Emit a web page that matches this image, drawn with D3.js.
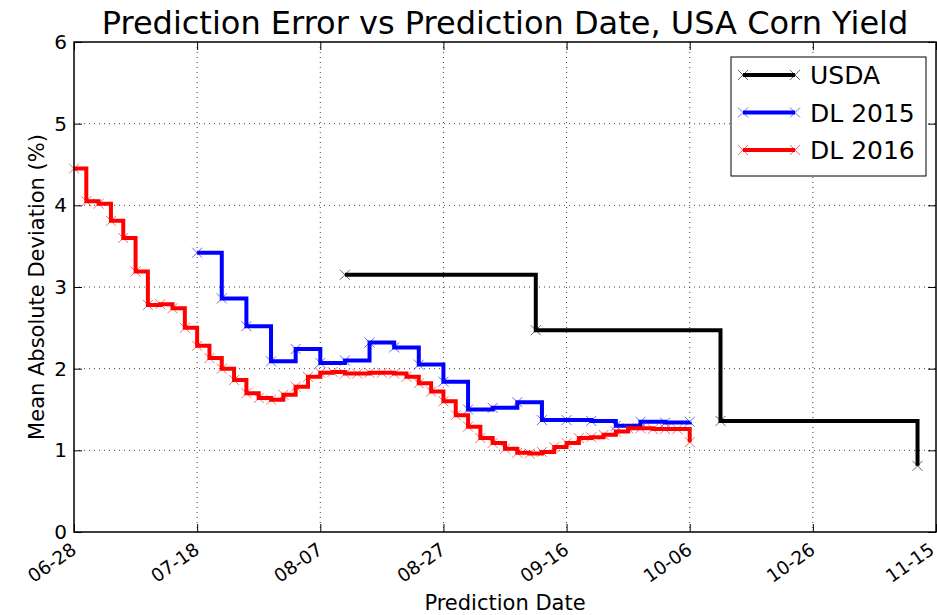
<!DOCTYPE html>
<html>
<head>
<meta charset="utf-8">
<script src="https://cdn.jsdelivr.net/npm/d3@7"></script>
<style>
  body { margin: 0; background: #fff; }
  svg { font-family: "DejaVu Sans", sans-serif; }
</style>
</head>
<body>
<div id="chart"></div>
<script>
// Dimensions
const width = 937;
const height = 615;
const margin = { top: 42, right: 1, bottom: 83, left: 74 };

// Data (month-day strings, values in %)
const xTickLabels = ["06-28", "07-18", "08-07", "08-27", "09-16", "10-06", "10-26", "11-15"];
const yTickValues = [0, 1, 2, 3, 4, 5, 6];

const usdaDates = ["08-11", "09-11", "10-11", "11-12"];
const usdaValues = [3.15, 2.47, 1.36, 0.81];

const dl2015Dates = ["07-18", "07-22", "07-26", "07-30", "08-03", "08-07", "08-11", "08-15",
  "08-19", "08-23", "08-27", "08-31", "09-04", "09-08", "09-12", "09-16", "09-20", "09-24",
  "09-28", "10-02", "10-06"];
const dl2015Values = [3.42, 2.86, 2.52, 2.09, 2.24, 2.07, 2.10, 2.32, 2.26, 2.05, 1.84,
  1.50, 1.52, 1.59, 1.37, 1.37, 1.36, 1.30, 1.35, 1.34, 1.35];

const dl2016Dates = ["06-28", "06-30", "07-02", "07-04", "07-06", "07-08", "07-10", "07-12",
  "07-14", "07-16", "07-18", "07-20", "07-22", "07-24", "07-26", "07-28", "07-30", "08-01",
  "08-03", "08-05", "08-07", "08-09", "08-11", "08-13", "08-15", "08-17", "08-19", "08-21",
  "08-23", "08-25", "08-27", "08-29", "08-31", "09-02", "09-04", "09-06", "09-08", "09-10",
  "09-12", "09-14", "09-16", "09-18", "09-20", "09-22", "09-24", "09-26", "09-28", "09-30",
  "10-02", "10-04", "10-06"];
const dl2016Values = [4.45, 4.05, 4.02, 3.81, 3.60, 3.19, 2.78, 2.79, 2.74, 2.50, 2.28,
  2.13, 2.00, 1.86, 1.70, 1.64, 1.62, 1.68, 1.78, 1.90, 1.95, 1.96, 1.94, 1.94, 1.95,
  1.95, 1.94, 1.90, 1.82, 1.72, 1.60, 1.43, 1.29, 1.15, 1.09, 1.02, 0.97, 0.96, 0.98,
  1.04, 1.09, 1.15, 1.16, 1.19, 1.23, 1.27, 1.27, 1.26, 1.26, 1.26, 1.10];

const seriesNames = ["USDA", "DL 2015", "DL 2016"];
const seriesColors = ["#000000", "#0000ff", "#ff0000"];

const parseDay = d3.timeParse("%m-%d");

const series = [
  { dates: usdaDates, values: usdaValues },
  { dates: dl2015Dates, values: dl2015Values },
  { dates: dl2016Dates, values: dl2016Values }
].map((s, i) => ({
  name: seriesNames[i],
  color: seriesColors[i],
  points: s.dates.map((d, j) => ({ date: parseDay(d), value: s.values[j] }))
}));

const svg = d3
  .select("#chart")
  .append("svg")
  .attr("width", width)
  .attr("height", height);

// Scales
const x = d3
  .scaleTime()
  .domain([parseDay(xTickLabels[0]), parseDay(xTickLabels[xTickLabels.length - 1])])
  .range([margin.left, width - margin.right]);

const y = d3
  .scaleLinear()
  .domain([0, 6])
  .range([height - margin.bottom, margin.top]);

const xTicks = xTickLabels.map(parseDay);
const plotBottom = height - margin.bottom;
const plotRight = width - margin.right;

// Grid (dotted)
const grid = svg.append("g").attr("stroke", "#000").attr("stroke-width", 1)
  .attr("stroke-dasharray", "1,4").attr("opacity", 0.75);
grid.selectAll("line.v")
  .data(xTicks.slice(1, -1))
  .join("line")
  .attr("class", "v")
  .attr("x1", d => x(d)).attr("x2", d => x(d))
  .attr("y1", margin.top).attr("y2", plotBottom);
grid.selectAll("line.h")
  .data(yTickValues.slice(1, -1))
  .join("line")
  .attr("class", "h")
  .attr("x1", margin.left).attr("x2", plotRight)
  .attr("y1", d => y(d)).attr("y2", d => y(d));

// Axes with inward ticks
const xAxis = d3.axisBottom(x).tickValues(xTicks).tickSizeInner(-8).tickSizeOuter(0).tickFormat("");
const xAxisTop = d3.axisTop(x).tickValues(xTicks).tickSizeInner(-8).tickSizeOuter(0).tickFormat("");
const yAxis = d3.axisLeft(y).tickValues(yTickValues).tickSizeInner(-8).tickSizeOuter(0)
  .tickPadding(7).tickFormat(d3.format("d"));
const yAxisRight = d3.axisRight(y).tickValues(yTickValues).tickSizeInner(-8).tickSizeOuter(0).tickFormat("");

const gx = svg.append("g").attr("transform", `translate(0,${plotBottom})`).call(xAxis);
const gxt = svg.append("g").attr("transform", `translate(0,${margin.top})`).call(xAxisTop);
const gy = svg.append("g").attr("transform", `translate(${margin.left},0)`).call(yAxis);
const gyr = svg.append("g").attr("transform", `translate(${plotRight},0)`).call(yAxisRight);

[gx, gxt, gy, gyr].forEach(g => g.attr("font-family", "DejaVu Sans").attr("font-size", 20));
svg.selectAll(".domain").remove();
svg.selectAll(".tick line").attr("stroke", "#000").attr("stroke-width", 1);

gy.selectAll("text")
  .attr("font-size", "20px")
  .attr("fill", "#000");

// Rotated x tick labels (last one nudged so it stays inside the page)
gx.selectAll(".tick")
  .append("text")
  .attr("fill", "#000")
  .attr("font-size", "18.5px")
  .attr("text-anchor", "end")
  .attr("transform", (d, i) => `translate(${i === xTicks.length - 1 ? -9 : -5},9) rotate(-35)`)
  .attr("dy", "0.76em")
  .text(d => d3.timeFormat("%m-%d")(d));

// Lines (steps-post)
const line = d3
  .line()
  .curve(d3.curveStepAfter)
  .x(d => x(d.date))
  .y(d => y(d.value));

const xMark = 5;
series.forEach(s => {
  svg.append("path")
    .datum(s.points)
    .attr("fill", "none")
    .attr("stroke", s.color)
    .attr("stroke-width", 4)
    .attr("stroke-linejoin", "miter")
    .attr("d", line);

  svg.append("g")
    .selectAll("path")
    .data(s.points)
    .join("path")
    .attr("d", d => {
      const cx = x(d.date), cy = y(d.value);
      return `M${cx - xMark},${cy - xMark}L${cx + xMark},${cy + xMark}M${cx - xMark},${cy + xMark}L${cx + xMark},${cy - xMark}`;
    })
    .attr("stroke", s.color)
    .attr("stroke-width", 1)
    .attr("opacity", 0.6)
    .attr("fill", "none");
});

// Frame
svg.append("rect")
  .attr("x", margin.left)
  .attr("y", margin.top)
  .attr("width", plotRight - margin.left)
  .attr("height", plotBottom - margin.top)
  .attr("fill", "none")
  .attr("stroke", "#000")
  .attr("stroke-width", 1.5);

// Legend
const legend = svg.append("g").attr("transform", "translate(731,57)");
legend.append("rect")
  .attr("width", 195)
  .attr("height", 119)
  .attr("fill", "#fff")
  .attr("stroke", "#000")
  .attr("stroke-width", 1);

series.forEach((s, i) => {
  const ly = 18 + i * 37.5;
  const g = legend.append("g").attr("transform", `translate(0,${ly})`);
  g.append("line")
    .attr("x1", 12).attr("x2", 64)
    .attr("stroke", s.color).attr("stroke-width", 4);
  [12, 64].forEach(mx => {
    g.append("path")
      .attr("d", `M${mx - xMark},${-xMark}L${mx + xMark},${xMark}M${mx - xMark},${xMark}L${mx + xMark},${-xMark}`)
      .attr("stroke", s.color).attr("stroke-width", 1).attr("opacity", 0.6);
  });
  g.append("text")
    .attr("x", 79)
    .attr("y", 9)
    .attr("font-size", "25px")
    .attr("fill", "#000")
    .text(s.name);
});

// Title and axis labels
svg.append("text")
  .attr("x", (margin.left + plotRight) / 2)
  .attr("y", 34)
  .attr("text-anchor", "middle")
  .attr("font-size", "32px")
  .text("Prediction Error vs Prediction Date, USA Corn Yield");

svg.append("text")
  .attr("x", (margin.left + plotRight) / 2)
  .attr("y", 610)
  .attr("text-anchor", "middle")
  .attr("font-size", "21px")
  .text("Prediction Date");

svg.append("text")
  .attr("transform", "rotate(-90)")
  .attr("x", -(margin.top + plotBottom) / 2)
  .attr("y", 44)
  .attr("text-anchor", "middle")
  .attr("font-size", "21px")
  .text("Mean Absolute Deviation (%)");
</script>
</body>
</html>
